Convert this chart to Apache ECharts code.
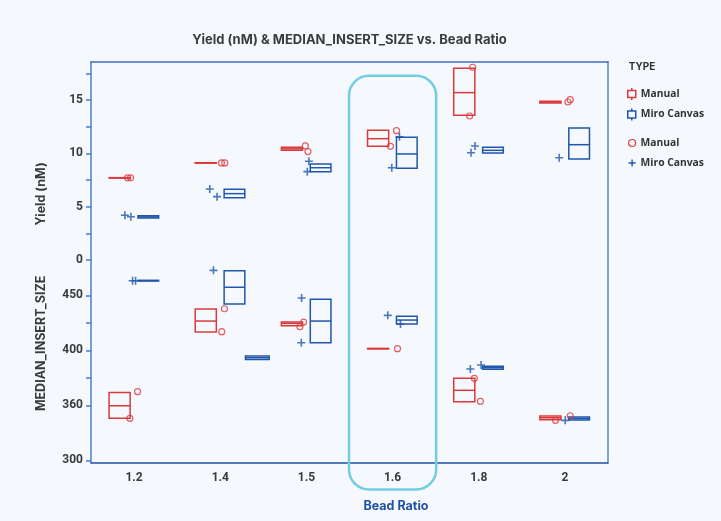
<!DOCTYPE html>
<html>
<head>
<meta charset="utf-8">
<title>Yield (nM) &amp; MEDIAN_INSERT_SIZE vs. Bead Ratio</title>
<script src="https://cdn.jsdelivr.net/npm/echarts@6/dist/echarts.min.js"></script>
<style>
  html, body { margin: 0; padding: 0; background: #f5f9fd; }
  #chart { width: 721px; height: 521px; }
</style>
</head>
<body>
<div id="chart"></div>
<script>
// ---- data -------------------------------------------------------------
const categories = ['1.2', '1.4', '1.5', '1.6', '1.8', '2'];

// tick labels
const yieldTicks = [0, 5, 10, 15];
const insertTicks = [300, 360, 400, 450];

// boxes: [Q1, median, Q3] per bead ratio
const yieldManualBox = [[7.68, 7.70, 7.72], [9.08, 9.10, 9.12], [10.28, 10.42, 10.56], [10.66, 11.37, 12.16], [13.56, 15.69, 17.97], [14.72, 14.80, 14.88]];
const yieldMiroBox = [[3.94, 4.04, 4.15], [5.84, 6.22, 6.63], [8.28, 8.65, 9.00], [8.60, 9.94, 11.50], [10.03, 10.28, 10.56], [9.47, 10.81, 12.37]];
const insertManualBox = [[345.8, 359.5, 369.4], [416.6, 426.6, 437.5], [422.4, 424.5, 425.7], [401.3, 401.5, 401.7], [362.6, 370.9, 379.6], [344.3, 346.4, 348.4]];
const insertMiroBox = [[463.0, 463.3, 463.6], [442.1, 457.3, 472.4], [406.9, 426.6, 446.4], [423.9, 427.5, 430.9], [386.2, 387.3, 388.4], [343.9, 345.6, 347.3]];
const insertMiroExtraBox = [[1, 393.4, 394.6, 395.8]]; // [category index, Q1, median, Q3]

// individual measurements per bead ratio
const yieldManualPts = [[7.70, 7.70], [9.10, 9.10], [10.69, 10.16], [12.12, 10.66], [18.07, 13.50], [15.03, 14.81]];
const yieldMiroPts = [[4.19, 4.06], [6.66, 5.94], [9.25, 8.28], [11.56, 8.65], [10.69, 10.06], [9.59]];
const insertManualPts = [[369.9, 345.8], [437.8, 416.9], [425.7, 421.5], [401.5], [379.6, 362.9], [348.6, 343.6]];
const insertMiroPts = [[463.3, 463.3], [472.7], [447.5, 406.9], [431.8, 423.9], [386.4, 389.3], [343.6]];

// ---- layout / style ---------------------------------------------------
const RED = '#db3a3d';
const BLUE = '#2156ad';
const TEXT = '#3a3a3a';
const FONT = 'Roboto';
const NAME_FONT = 'Inter';

// horizontal strip jitter (px) for the dots, same shape as the point lists
const jitterYieldManual = [[-6.5, -3.5], [1.2, 4.5], [-1.1, 1.5], [3.9, -2.1], [-6.1, -9.1], [5.3, 3]];
const jitterYieldMiro = [[-9.2, -3.2], [-10.5, -3.2], [2.5, 0.9], [6.9, -0.8], [-3.7, -7.7], [-5.7]];
const jitterInsertManual = [[3.5, -4.2], [4.2, 1.5], [-2.8, -6.5], [4.9], [-4.4, 1.6], [5.3, -9.4]];
const jitterInsertMiro = [[-1.5, 1.5], [-6.8], [-4.8, -5.1], [-4.8, 7.9], [-8.4, 2.3], [0.3]];

// The insert-size axis is piecewise linear: labelled values sit on evenly spaced slots.
const insertSlots = [300, 350, 400, 450];
function interp(v, from, to) {
  let i = 0;
  if (v <= from[0]) i = 0;
  else if (v >= from[from.length - 1]) i = from.length - 2;
  else while (v > from[i + 1]) i++;
  const t = (v - from[i]) / (from[i + 1] - from[i]);
  return to[i] + t * (to[i + 1] - to[i]);
}
const toInsertAxis = v => interp(v, insertTicks, insertSlots);
const fromInsertAxis = s => interp(s, insertSlots, insertTicks);

const PLUS = 'path://M4,0H6V4H10V6H6V10H4V6H0V4H4Z';
const BOX_ICON = 'path://M4,0V2.5M0,2.5H8V9.5H0ZM4,9.5V12';

function boxRenderer(offsetFrac, widthFrac, color) {
  return function (params, api) {
    const cat = api.value(0);
    const q1 = api.value(1), med = api.value(2), q3 = api.value(3);
    const band = api.size([1, 0])[0];
    const cx = api.coord([cat, med])[0] + offsetFrac * band;
    const w = widthFrac * band;
    const yTop = api.coord([cat, q3])[1];
    const yBot = api.coord([cat, q1])[1];
    const yMed = api.coord([cat, med])[1];
    return {
      type: 'group',
      children: [
        { type: 'rect', shape: { x: cx - w / 2, y: yTop, width: w, height: yBot - yTop },
          style: { fill: 'none', stroke: color, lineWidth: 1.5 } },
        { type: 'line', shape: { x1: cx - w / 2, y1: yMed, x2: cx + w / 2, y2: yMed },
          style: { stroke: color, lineWidth: 1.5 } }
      ]
    };
  };
}

function boxData(boxes, map) {
  return boxes.map((b, i) => [i].concat(b.map(map)));
}
function pointData(points, jitter, map) {
  const out = [];
  points.forEach((list, i) => {
    list.forEach((v, k) => {
      out.push({ value: [i, map(v)], symbolOffset: [jitter[i][k], 0] });
    });
  });
  return out;
}
const same = v => v;

const circleStyle = { color: 'rgba(255,255,255,0)', borderColor: RED, borderWidth: 1.2 };
const plusStyle = { color: BLUE };
const legendText = { fontFamily: 'Open Sans', fontSize: 10.3, fontWeight: 'bold', color: '#333' };

const chart = echarts.init(document.getElementById('chart'), null, { renderer: 'canvas' });

const option = {
  backgroundColor: '#f5f9fd',
  animation: false,
  title: {
    text: 'Yield (nM) & MEDIAN_INSERT_SIZE vs. Bead Ratio',
    left: 349.5,
    textAlign: 'center',
    top: 34,
    padding: 0,
    textStyle: { fontFamily: NAME_FONT, fontSize: 13, fontWeight: 'bold', color: '#3b3b3b' }
  },
  legend: [
    {
      orient: 'vertical', left: 627, top: 87.3, padding: 0,
      itemWidth: 8, itemHeight: 12, itemGap: 7,
      selectedMode: false,
      textStyle: legendText,
      data: [
        { name: 'Manual', icon: BOX_ICON, itemStyle: { color: 'rgba(0,0,0,0)', borderColor: RED, borderWidth: 1.5 } },
        { name: 'Miro Canvas', icon: BOX_ICON, itemStyle: { color: 'rgba(0,0,0,0)', borderColor: BLUE, borderWidth: 1.5 } }
      ]
    },
    {
      orient: 'vertical', left: 628, top: 138, padding: 0,
      itemWidth: 7, itemHeight: 12, itemGap: 10,
      selectedMode: false,
      textStyle: legendText,
      data: [
        { name: 'Manual', icon: 'circle', itemStyle: { color: 'rgba(0,0,0,0)', borderColor: RED, borderWidth: 1.2 } },
        { name: 'Miro Canvas', icon: PLUS, itemStyle: { color: BLUE, borderWidth: 0 } }
      ]
    }
  ],
  grid: [
    { left: 91, right: 113, top: 62, height: 198 },
    { left: 91, right: 113, top: 260, height: 202.5 }
  ],
  xAxis: [
    {
      gridIndex: 0, type: 'category', data: categories, position: 'top',
      axisLine: { show: true, onZero: false, lineStyle: { color: '#3e6fc3', width: 1.5 } },
      axisTick: { show: false }, axisLabel: { show: false }, splitLine: { show: false }
    },
    {
      gridIndex: 1, type: 'category', data: categories, position: 'bottom',
      axisLine: { show: true, onZero: false, lineStyle: { color: '#1f4d9e', width: 1.5 } },
      axisTick: { show: false },
      axisLabel: { margin: 9, fontFamily: FONT, fontSize: 12, fontWeight: 'bold', color: TEXT },
      name: 'Bead Ratio', nameLocation: 'middle', nameGap: 37,
      nameTextStyle: { fontFamily: NAME_FONT, fontSize: 12.5, fontWeight: 'bold', color: '#1f4fa6', padding: [0, 0, 0, 93] }
    }
  ],
  yAxis: [
    {
      gridIndex: 0, type: 'value', min: 0, max: 18.56,
      axisLine: { show: true, lineStyle: { color: '#4b7dcf', width: 1.5 } },
      axisTick: { show: true, length: 5, customValues: [0, 2.5, 5, 7.5, 10, 12.5, 15, 17.5], lineStyle: { color: '#4b7dcf', width: 1.5 } },
      axisLabel: { customValues: yieldTicks, margin: 8, fontFamily: FONT, fontSize: 12, fontWeight: 'bold', color: TEXT },
      splitLine: { show: false }
    },
    {
      gridIndex: 1, type: 'value', min: 298, max: 482.1,
      axisLine: { show: true, lineStyle: { color: '#4b7dcf', width: 1.5 } },
      axisTick: { show: true, length: 5, customValues: [300, 350, 375, 400, 425, 450], lineStyle: { color: '#4b7dcf', width: 1.5 } },
      axisLabel: {
        customValues: insertTicks.map(toInsertAxis), margin: 8,
        fontFamily: FONT, fontSize: 12, fontWeight: 'bold', color: TEXT,
        formatter: s => String(Math.round(fromInsertAxis(s)))
      },
      splitLine: { show: false }
    },
    {
      gridIndex: 0, type: 'value', position: 'right', min: 0, max: 1,
      axisLine: { show: true, lineStyle: { color: '#7fa2d9', width: 2 } },
      axisTick: { show: false }, axisLabel: { show: false }, splitLine: { show: false }
    },
    {
      gridIndex: 1, type: 'value', position: 'right', min: 0, max: 1,
      axisLine: { show: true, lineStyle: { color: '#7fa2d9', width: 2 } },
      axisTick: { show: false }, axisLabel: { show: false }, splitLine: { show: false }
    }
  ],
  series: [
    { name: 'Manual', type: 'custom', xAxisIndex: 0, yAxisIndex: 0, itemStyle: { color: RED },
      encode: { x: 0, y: [1, 2, 3] }, renderItem: boxRenderer(-0.168, 0.245, RED), data: boxData(yieldManualBox, same) },
    { name: 'Miro Canvas', type: 'custom', xAxisIndex: 0, yAxisIndex: 0, itemStyle: { color: BLUE },
      encode: { x: 0, y: [1, 2, 3] }, renderItem: boxRenderer(0.165, 0.24, BLUE), data: boxData(yieldMiroBox, same) },
    { name: 'Manual', type: 'custom', xAxisIndex: 1, yAxisIndex: 1, itemStyle: { color: RED },
      encode: { x: 0, y: [1, 2, 3] }, renderItem: boxRenderer(-0.168, 0.245, RED), data: boxData(insertManualBox, toInsertAxis) },
    { name: 'Miro Canvas', type: 'custom', xAxisIndex: 1, yAxisIndex: 1, itemStyle: { color: BLUE },
      encode: { x: 0, y: [1, 2, 3] }, renderItem: boxRenderer(0.165, 0.24, BLUE), data: boxData(insertMiroBox, toInsertAxis) },
    { name: 'Miro Canvas', type: 'custom', xAxisIndex: 1, yAxisIndex: 1, itemStyle: { color: BLUE },
      encode: { x: 0, y: [1, 2, 3] }, renderItem: boxRenderer(0.43, 0.275, BLUE),
      data: insertMiroExtraBox.map(r => [r[0]].concat(r.slice(1).map(toInsertAxis))) },

    { name: 'Manual', type: 'scatter', xAxisIndex: 0, yAxisIndex: 0, symbol: 'circle', symbolSize: 6,
      itemStyle: circleStyle, z: 3, data: pointData(yieldManualPts, jitterYieldManual, same) },
    { name: 'Miro Canvas', type: 'scatter', xAxisIndex: 0, yAxisIndex: 0, symbol: PLUS, symbolSize: 8,
      itemStyle: plusStyle, z: 3, data: pointData(yieldMiroPts, jitterYieldMiro, same) },
    { name: 'Manual', type: 'scatter', xAxisIndex: 1, yAxisIndex: 1, symbol: 'circle', symbolSize: 6,
      itemStyle: circleStyle, z: 3, data: pointData(insertManualPts, jitterInsertManual, toInsertAxis) },
    { name: 'Miro Canvas', type: 'scatter', xAxisIndex: 1, yAxisIndex: 1, symbol: PLUS, symbolSize: 8,
      itemStyle: plusStyle, z: 3, data: pointData(insertMiroPts, jitterInsertMiro, toInsertAxis) }
  ]
};

chart.setOption(option);

// highlight around the 1.6 bead ratio band, plus axis titles and legend heading
const c16 = chart.convertToPixel({ xAxisIndex: 1 }, '1.6');
const c18 = chart.convertToPixel({ xAxisIndex: 1 }, '1.8');
const band = c18 - c16;

chart.setOption({
  graphic: [
    {
      type: 'rect', z: 10, silent: true,
      shape: { x: c16 - band / 2 - 0.5, y: 75.7, width: band + 1, height: 413.7, r: 20 },
      style: { fill: 'none', stroke: '#72cde0', lineWidth: 2.5 }
    },
    {
      type: 'text', x: 41, y: 194, rotation: Math.PI / 2,
      style: { text: 'Yield (nM)', fill: TEXT, font: 'bold 12.5px ' + NAME_FONT, align: 'center', verticalAlign: 'middle' }
    },
    {
      type: 'text', x: 41, y: 343.4, rotation: Math.PI / 2,
      style: { text: 'MEDIAN_INSERT_SIZE', fill: TEXT, font: 'bold 12.5px ' + NAME_FONT, align: 'center', verticalAlign: 'middle' }
    },
    {
      type: 'text', x: 628.7, y: 66.7,
      style: { text: 'TYPE', fill: '#333', font: 'bold 10px ' + NAME_FONT, align: 'left', verticalAlign: 'middle' }
    }
  ]
});
</script>
</body>
</html>
